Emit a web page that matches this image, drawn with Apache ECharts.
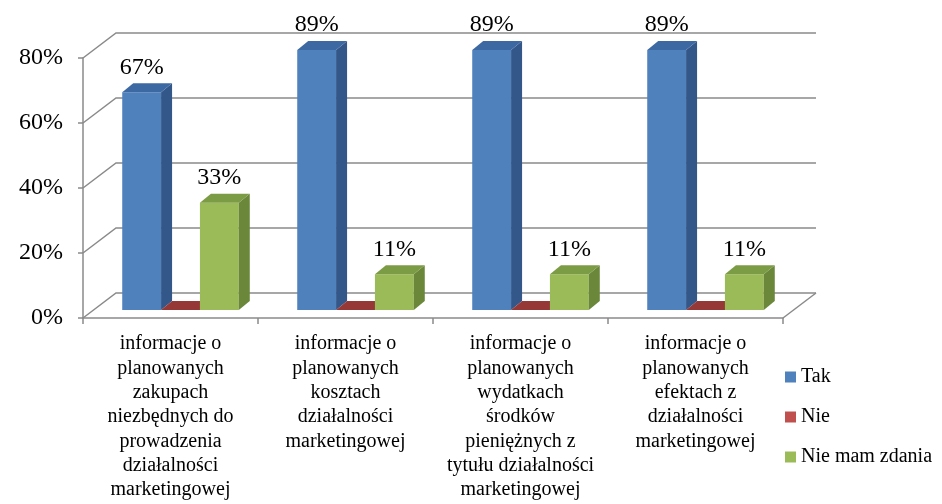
<!DOCTYPE html>
<html>
<head>
<meta charset="utf-8">
<script src="https://cdn.jsdelivr.net/npm/echarts@6/dist/echarts.min.js"></script>
<style>html,body{margin:0;padding:0;background:#fff;}#c{width:942px;height:504px;}</style>
</head>
<body>
<div id="c"></div>
<script>
const categories = [
  "informacje o\nplanowanych\nzakupach\nniezbędnych do\nprowadzenia\ndziałalności\nmarketingowej",
  "informacje o\nplanowanych\nkosztach\ndziałalności\nmarketingowej",
  "informacje o\nplanowanych\nwydatkach\nśrodków\npieniężnych z\ntytułu działalności\nmarketingowej",
  "informacje o\nplanowanych\nefektach z\ndziałalności\nmarketingowej"
];
const seriesNames = ["Tak", "Nie", "Nie mam zdania"];
const tak = [67, 89, 89, 89];
const nie = [0, 0, 0, 0];
const nieMamZdania = [33, 11, 11, 11];
const yTicks = [0, 20, 40, 60, 80];
const Y_MAX = 80;

const SERIF = '"Liberation Serif", "Times New Roman", serif';
const GRID_COLOR = '#8a8a8a';
// 3D geometry (pixels)
const WALL_DX = 33, WALL_DY = 25;   // back wall depth
const SHIFT_X = 10, SHIFT_Y = 8;    // bar row depth position
const BAR_DX = 11, BAR_DY = 9;      // bar depth
const BAR_FRAC = 0.222;

const palettes = [
  {front: '#4F81BD', side: '#34578A', top: '#3D69A3', legend: '#4F81BD'},
  {front: '#C0504D', side: '#8C3532', top: '#953836', legend: '#C0504D'},
  {front: '#9BBB59', side: '#6A873A', top: '#7C9B45', legend: '#9BBB59'}
];

function barRender(sIdx) {
  const pal = palettes[sIdx];
  return function (params, api) {
    const i = api.value(0), v = api.value(1);
    const base = api.coord([i, 0]);
    const topC = api.coord([i, Math.min(v, Y_MAX)]);
    const bw = api.size([1, 0])[0];
    const w = bw * BAR_FRAC;
    const x0 = base[0] - 1.5 * w + sIdx * w + SHIFT_X;
    const yb = base[1] - SHIFT_Y;
    const yt = topC[1] - SHIFT_Y;
    const children = [];
    if (yb - yt > 0.5) {
      children.push({type: 'rect', shape: {x: x0, y: yt, width: w, height: yb - yt}, style: {fill: pal.front}});
      children.push({type: 'polygon', shape: {points: [[x0 + w, yb], [x0 + w + BAR_DX, yb - BAR_DY], [x0 + w + BAR_DX, yt - BAR_DY], [x0 + w, yt]]}, style: {fill: pal.side}});
    }
    children.push({type: 'polygon', shape: {points: [[x0, yt], [x0 + w, yt], [x0 + w + BAR_DX, yt - BAR_DY], [x0 + BAR_DX, yt - BAR_DY]]}, style: {fill: pal.top}});
    if (v > 0) {
      children.push({type: 'text', style: {text: v + '%', x: x0 + w / 2, y: Math.max(yt - 25, 24), align: 'center', verticalAlign: 'middle', font: '24px ' + SERIF, fill: '#000'}});
    }
    return {type: 'group', children: children};
  };
}

function wallRender(params, api) {
  const cs = params.coordSys;
  const v = api.value(1);
  const y = api.coord([0, v])[1];
  const left = cs.x, right = cs.x + cs.width;
  const children = [{
    type: 'polyline',
    shape: {points: [[left, y], [left + WALL_DX, y - WALL_DY], [right + WALL_DX, y - WALL_DY]]},
    style: {stroke: GRID_COLOR, lineWidth: 1.5, fill: null}
  }];
  if (v === 0) {
    children.push({type: 'line', shape: {x1: right, y1: y, x2: right + WALL_DX, y2: y - WALL_DY}, style: {stroke: GRID_COLOR, lineWidth: 1.5}});
  }
  return {type: 'group', children: children};
}

const values = [tak, nie, nieMamZdania];
const chart = echarts.init(document.getElementById('c'), null, {renderer: 'canvas'});
chart.setOption({
  animation: false,
  backgroundColor: '#fff',
  grid: {left: 83, right: 159, top: 58, bottom: 186, containLabel: false},
  legend: {
    orient: 'vertical', left: 780, top: 362,
    icon: 'rect', itemWidth: 11, itemHeight: 11, itemGap: 20,
    textStyle: {fontFamily: SERIF, fontSize: 20, color: '#000', lineHeight: 20},
    data: seriesNames.map((n, k) => ({name: n, itemStyle: {color: palettes[k].legend}}))
  },
  xAxis: {
    type: 'category', data: categories,
    axisLine: {lineStyle: {color: GRID_COLOR, width: 1.5}},
    axisTick: {show: true, length: 6, lineStyle: {color: GRID_COLOR, width: 1.5}},
    axisLabel: {interval: 0, margin: 14, fontFamily: SERIF, fontSize: 20, lineHeight: 24.3, color: '#000', align: 'center'},
    splitLine: {show: false}
  },
  yAxis: {
    type: 'value', min: 0, max: Y_MAX, interval: 20,
    axisLine: {show: true, lineStyle: {color: GRID_COLOR, width: 1.5}},
    axisTick: {show: true, length: 5, lineStyle: {color: GRID_COLOR, width: 1.5}},
    axisLabel: {formatter: '{value}%', margin: 20, fontFamily: SERIF, fontSize: 24, color: '#000', padding: [4, 0, 0, 0]},
    splitLine: {show: false}
  },
  series: [
    {type: 'custom', name: '_wall', renderItem: wallRender, clip: false, silent: true, z: 1,
     encode: {x: 0, y: 1}, data: yTicks.map(t => [0, t])}
  ].concat(seriesNames.map((n, k) => ({
    type: 'custom', name: n, renderItem: barRender(k), clip: false, z: 2,
    itemStyle: {color: palettes[k].legend},
    encode: {x: 0, y: 1},
    data: values[k].map((v, i) => [i, v])
  })))
});
</script>
</body>
</html>
